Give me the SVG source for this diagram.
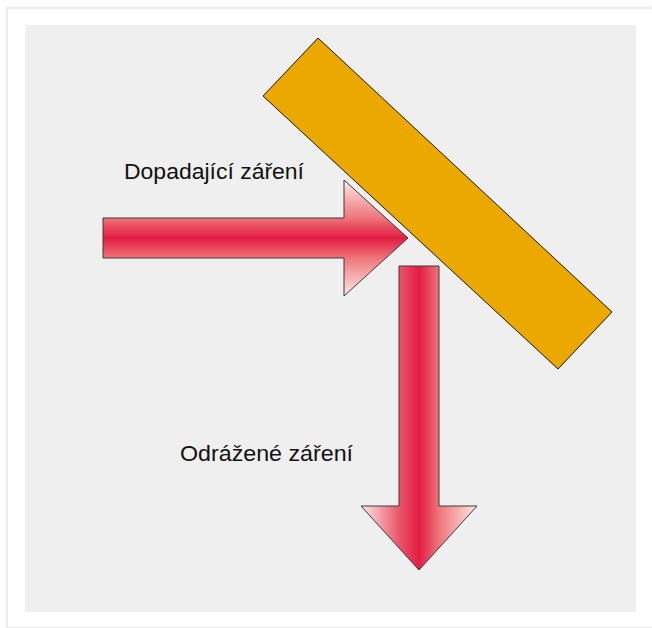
<svg xmlns="http://www.w3.org/2000/svg" width="652" height="628" viewBox="0 0 652 628">
  <style>
    .label { font-family: "Liberation Sans", "Noto Sans", sans-serif; font-size: 22px; fill: #111; }
    .arrow { stroke: #3a3a3a; stroke-width: 1; stroke-linejoin: miter; }
  </style>
  <defs>
    <filter id="shadow" x="-5%" y="-5%" width="110%" height="110%">
      <feGaussianBlur stdDeviation="1.5"/>
    </filter>
    <linearGradient id="gradH" gradientUnits="userSpaceOnUse" x1="0" y1="180" x2="0" y2="296">
      <stop offset="0" stop-color="#FDE9E7"/>
      <stop offset="0.32" stop-color="#EF787C"/>
      <stop offset="0.5" stop-color="#E31C44"/>
      <stop offset="0.68" stop-color="#EF787C"/>
      <stop offset="1" stop-color="#FDE9E7"/>
    </linearGradient>
    <linearGradient id="gradV" gradientUnits="userSpaceOnUse" x1="361" y1="0" x2="477" y2="0">
      <stop offset="0" stop-color="#FDE9E7"/>
      <stop offset="0.32" stop-color="#EA5A6C"/>
      <stop offset="0.5" stop-color="#E31C44"/>
      <stop offset="0.68" stop-color="#EF787C"/>
      <stop offset="1" stop-color="#FDE9E7"/>
    </linearGradient>
  </defs>

  <rect x="0" y="0" width="652" height="628" fill="#ffffff"/>
  <rect x="6" y="7" width="648" height="622" fill="#e6e6e6" filter="url(#shadow)"/>
  <rect x="8" y="9" width="644" height="618" fill="#ffffff"/>
  <rect x="25" y="25" width="611" height="587" fill="#efefef"/>

  <g id="mirror">
    <polygon points="318,38 612,312 558,369 263,96" fill="#EBA900" stroke="#000" stroke-width="0.9"/>
  </g>

  <g id="connectors">
    <g id="incoming">
      <path class="arrow" fill="url(#gradH)" d="M103,218 L344,218 L344,180 L408,238 L344,296 L344,258 L103,258 Z"/>
    </g>
    <g id="reflected">
      <path class="arrow" fill="url(#gradV)" d="M399,266 L439,266 L439,506 L477,506 L419,570 L361,506 L399,506 Z"/>
    </g>
  </g>

  <g id="label-incoming">
    <text class="label" x="124" y="179" textLength="180" lengthAdjust="spacingAndGlyphs">Dopadající záření</text>
  </g>
  <g id="label-reflected">
    <text class="label" x="180" y="461" textLength="173" lengthAdjust="spacingAndGlyphs">Odrážené záření</text>
  </g>
</svg>
